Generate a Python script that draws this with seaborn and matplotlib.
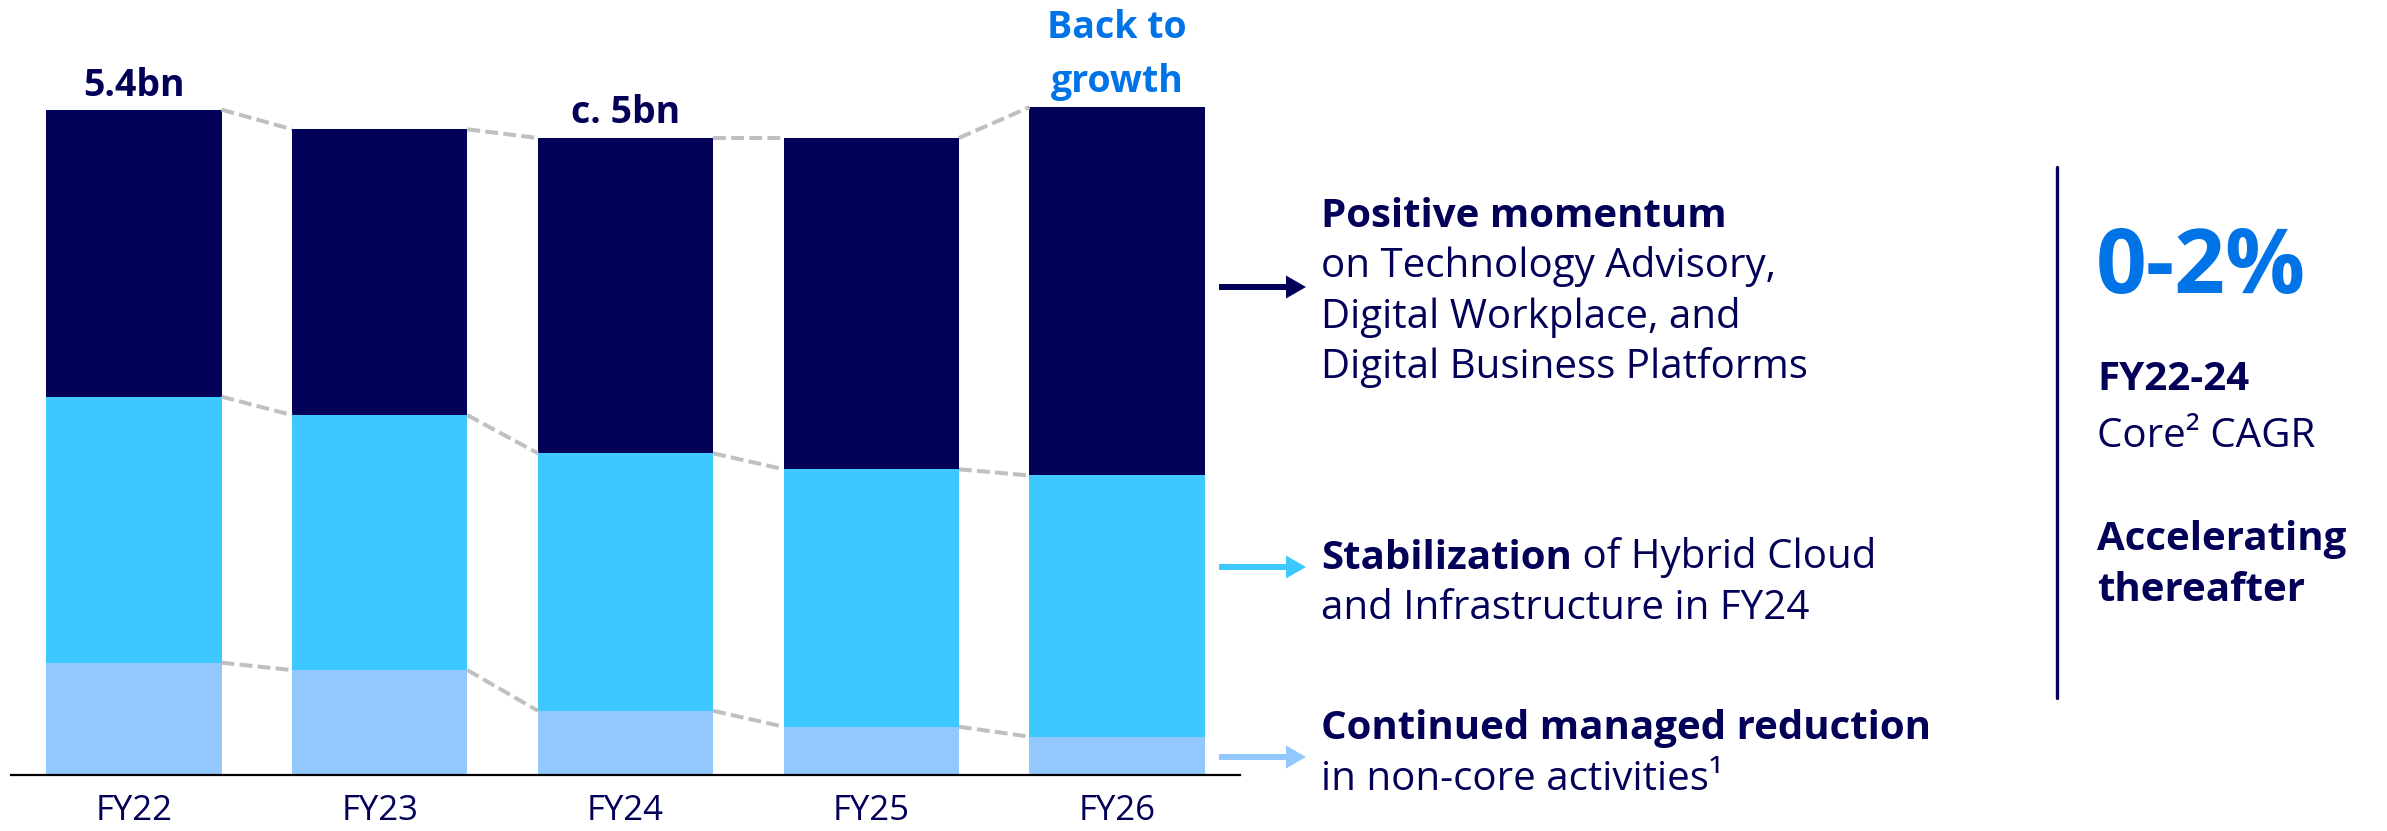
import matplotlib
matplotlib.use("Agg")
import matplotlib.pyplot as plt
from matplotlib.patches import FancyArrow
from matplotlib.lines import Line2D
from matplotlib.transforms import IdentityTransform
import seaborn as sns

# revenue split (EUR bn)
years = ["FY22", "FY23", "FY24", "FY25", "FY26"]
non_core = [0.91, 0.85, 0.52, 0.39, 0.31]
hybrid_cloud = [2.16, 2.07, 2.09, 2.09, 2.12]
growth_areas = [2.33, 2.32, 2.56, 2.69, 2.99]

navy = "#020057"
cyan = "#3dc8ff"
pale = "#93c8ff"
blue_txt = "#0073e6"
dash_col = "#c0c0c0"

W, H = 2387, 831

sns.set_style("white")
plt.rcParams["font.family"] = ["Open Sans", "DejaVu Sans"]

lvl1 = non_core
lvl2 = [a + b for a, b in zip(non_core, hybrid_cloud)]
lvl3 = [a + b for a, b in zip(lvl2, growth_areas)]

fig = plt.figure(figsize=(W / 100, H / 100), dpi=100)
ax = fig.add_axes([11 / W, 56.2 / H, (1240 - 11) / W, 774.8 / H])

bw = 0.713
# stacked look: draw cumulative totals tallest first
sns.barplot(x=years, y=lvl3, color=navy, width=bw, saturation=1, linewidth=0, errorbar=None, ax=ax)
sns.barplot(x=years, y=lvl2, color=cyan, width=bw, saturation=1, linewidth=0, errorbar=None, ax=ax)
sns.barplot(x=years, y=lvl1, color=pale, width=bw, saturation=1, linewidth=0, errorbar=None, ax=ax)

# dashed connectors between bars
for lvl in (lvl1, lvl2, lvl3):
    for i in range(len(years) - 1):
        ax.plot([i + bw / 2, i + 1 - bw / 2], [lvl[i], lvl[i + 1]], color=dash_col,
                lw=2.9, dashes=(3.2, 1.3), solid_capstyle="butt", zorder=1)

ax.set_xlim(-0.5, 4.5)
ax.set_ylim(0, 6.29)
ax.set_yticks([])
ax.set_ylabel("")
for s in ["top", "right", "left"]:
    ax.spines[s].set_visible(False)
ax.spines["bottom"].set_color("black")
ax.spines["bottom"].set_linewidth(1.6)
ax.tick_params(axis="x", length=0, labelsize=25, labelcolor=navy, pad=14)

# labels above bars
ax.annotate("5.4bn", xy=(0, lvl3[0]), xytext=(0, 10), textcoords="offset points",
            ha="center", va="baseline", fontsize=27, fontweight="bold", color=navy)
ax.annotate("c. 5bn", xy=(2, lvl3[2]), xytext=(0, 11), textcoords="offset points",
            ha="center", va="baseline", fontsize=27, fontweight="bold", color=navy)
ax.annotate("growth", xy=(4, lvl3[4]), xytext=(0, 11), textcoords="offset points",
            ha="center", va="baseline", fontsize=27, fontweight="bold", color=blue_txt)
ax.annotate("Back to", xy=(4, lvl3[4]), xytext=(0, 50), textcoords="offset points",
            ha="center", va="baseline", fontsize=27, fontweight="bold", color=blue_txt)


def ftext(x, y, s, **kw):
    kw.setdefault("color", navy)
    kw.setdefault("fontsize", 29)
    kw.setdefault("va", "baseline")
    return fig.text(x / W, 1 - y / H, s, **kw)


def tail(t, s):
    # continue a line right after a bold run
    return plt.annotate(s, xy=(1, 0), xycoords=t, ha="left", va="bottom",
                        color=navy, fontsize=29)


tx = 1321
ftext(tx, 227, "Positive momentum", fontweight="bold")
ftext(tx, 277, "on Technology Advisory,")
ftext(tx, 328, "Digital Workplace, and")
ftext(tx, 378, "Digital Business Platforms")

t = ftext(tx, 569, "Stabilization", fontweight="bold")
tail(t, " of Hybrid Cloud")
ftext(tx, 619, "and Infrastructure in FY24")

ftext(tx, 739, "Continued managed reduction", fontweight="bold")
ftext(tx, 790, "in non-core activities¹")

# arrows pointing at the segments
for yy, c in [(287, navy), (567, cyan), (757, pale)]:
    fig.add_artist(FancyArrow(1219, H - yy, 87, 0, width=6, head_width=23, head_length=20,
                              length_includes_head=True, color=c, lw=0,
                              transform=IdentityTransform()))

# right panel
fig.add_artist(Line2D([2057 / W, 2057 / W], [1 - 167 / H, 1 - 698 / H], color=navy, lw=2.4))
ftext(2096, 293, "0-2%", fontsize=64, fontweight="bold", color=blue_txt)
ftext(2097, 390, "FY22-24", fontweight="bold")
ftext(2097, 447, "Core² CAGR")
ftext(2097, 550, "Accelerating", fontweight="bold")
ftext(2097, 601, "thereafter", fontweight="bold")

fig.savefig("out.png", dpi=100)
